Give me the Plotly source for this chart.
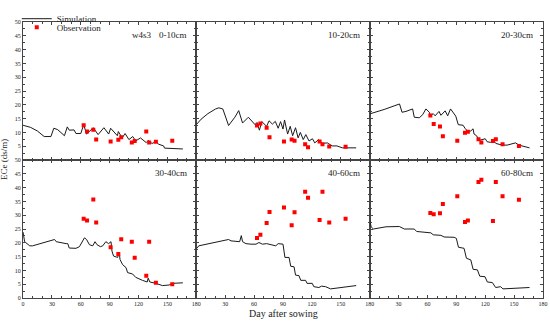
import plotly.graph_objects as go
from plotly.subplots import make_subplots

# ---------------- data ----------------
depth_labels = ["0-10cm", "10-20cm", "20-30cm", "30-40cm", "40-60cm", "60-80cm"]
treatment_label = "w4s3"

obs_days = [63, 66.5, 73, 76, 91, 99, 102, 113, 116, 128, 131, 138, 155]
obs_0_10 = [12.6, 10.3, 11.0, 7.4, 6.7, 7.3, 8.2, 6.3, 6.9, 10.3, 6.3, 6.6, 7.0]
obs_10_20 = [12.5, 13.2, 11.7, 8.2, 6.7, 7.4, 7.0, 5.7, 4.6, 6.7, 5.7, 4.9, 4.8]
obs_20_30 = [16.1, 13.0, 12.1, 8.6, 7.0, 9.9, 10.2, 7.5, 6.3, 6.9, 7.5, 5.7, 5.1]
obs_30_40 = [28.7, 28.1, 35.7, 27.4, 18.4, 15.9, 21.3, 20.4, 14.6, 8.1, 20.4, 5.5, 5.0]
obs_40_60 = [21.7, 22.9, 27.2, 31.2, 32.8, 26.4, 31.1, 38.5, 36.3, 28.3, 38.5, 27.4, 28.7]
obs_60_80 = [30.8, 30.3, 30.7, 34.1, 36.9, 27.5, 28.1, 42.0, 42.8, 27.9, 42.0, 36.9, 35.6]

sim_days_0_10 = [0, 8, 15, 22, 29, 32, 36, 43, 46, 48, 53, 55, 60, 63, 66, 73, 78, 84, 89, 91, 98, 99,
                 103, 106, 110, 114, 117, 122, 128, 130, 134, 138, 141, 146, 147, 166]
sim_0_10 = [12.6, 11.8, 10.5, 8.5, 8.5, 11.5, 11.0, 8.8, 12.0, 10.8, 10.9, 9.6, 9.6, 12.8, 9.4, 11.7, 9.2,
            11.7, 9.4, 11.5, 8.8, 10.3, 8.0, 9.6, 7.4, 8.5, 6.9, 8.0, 6.3, 7.1, 6.0, 6.6, 5.7, 5.1, 4.3, 4.0]

sim_days_10_20 = [0, 5, 12, 20, 23.4, 27.5, 33.5, 40, 44, 48, 54, 58, 61, 63, 65.5, 68, 73, 75.5, 79, 82,
                  85, 87.5, 90, 91.6, 94.8, 97.5, 100, 103, 105.7, 108, 111, 113.7, 117, 120.6, 123, 127,
                  131, 136, 141, 146, 151.7, 166]
sim_10_20 = [12.8, 14.8, 16.8, 18.5, 18.9, 18.5, 12.5, 15.5, 17.9, 13.4, 15.5, 14.0, 12.8, 13.6, 10.8,
             13.9, 12.2, 14.2, 13.0, 14.0, 11.5, 13.9, 11.2, 14.5, 9.4, 12.2, 8.8, 11.7, 8.0, 10.0, 7.4,
             9.2, 6.9, 7.7, 6.2, 7.4, 6.0, 6.2, 5.1, 5.1, 4.4, 4.4]

sim_days_20_30 = [0, 15, 31, 33.6, 37.7, 44.6, 46.3, 51.5, 55, 58.4, 62, 63, 66, 68, 72, 74, 78.4, 81, 84,
                  86.5, 89.4, 92, 97, 99, 101.5, 105, 107.4, 108.4, 111, 113.6, 117, 120, 122, 125.5, 129,
                  131, 137.7, 142.8, 151.5, 155, 166]
sim_20_30 = [16.7, 18.3, 20.3, 17.3, 17.6, 18.5, 15.5, 15.3, 16.4, 18.5, 17.3, 16.0, 16.8, 16.0, 17.6,
             16.2, 17.8, 16.0, 18.5, 17.3, 15.9, 12.8, 12.6, 11.5, 10.5, 10.5, 11.3, 9.4, 8.8, 7.1, 7.5,
             7.7, 6.6, 6.4, 6.9, 6.0, 5.4, 5.4, 6.2, 5.4, 4.4]

sim_days_30_40 = [0, 1.7, 7, 10, 32.8, 34.5, 44.8, 46.5, 48, 55, 58.6, 63.8, 66, 69, 72.4, 74.8, 76.9, 80.3,
                  82.8, 86, 88.9, 91.4, 92.4, 94, 98.3, 100, 100.7, 103.4, 107, 108.6, 113.8, 117, 124,
                  129, 130, 131.7, 138, 144.8, 151.7, 155, 166]
sim_30_40 = [23.9, 20.4, 18.9, 18.9, 21.2, 20.4, 19.7, 19.7, 18.1, 18.0, 18.6, 21.8, 21.2, 19.3, 18.9,
             20.4, 19.3, 18.6, 18.9, 20.4, 19.7, 20.4, 17.0, 15.2, 14.7, 16.6, 14.0, 12.1, 11.0, 9.2, 8.7,
             7.5, 6.4, 5.8, 7.2, 5.8, 5.3, 4.5, 4.7, 5.3, 5.5]

sim_days_40_60 = [0, 2.5, 33.5, 36, 45, 46.7, 48, 51.5, 56.7, 62, 65, 68.7, 73, 77.3, 82.5, 85, 90, 92,
                  96.3, 98, 101.5, 103, 106.6, 108.4, 113.5, 115, 120.4, 122, 127.3, 130, 134.2, 139.4, 166]
sim_40_60 = [17.8, 18.9, 21.2, 20.7, 20.4, 22.6, 20.4, 19.7, 19.5, 19.5, 20.1, 19.5, 19.7, 19.3, 18.9,
             19.7, 19.5, 14.7, 14.7, 11.5, 11.3, 8.3, 8.1, 6.4, 6.4, 5.3, 5.3, 4.1, 3.8, 4.3, 4.1, 3.3, 4.5]

sim_days_60_80 = [0, 1.5, 3.9, 8.4, 17, 30.8, 36, 46.3, 48.8, 63.6, 66, 74, 77.4, 87.7, 90, 92.2, 98,
                  100.5, 105, 107.4, 111.9, 114.3, 119.8, 122.2, 127.4, 130.8, 136, 138.4, 166]
sim_60_80 = [28.4, 25.8, 25.0, 25.3, 25.8, 25.9, 25.0, 25.0, 24.1, 23.6, 22.9, 22.7, 22.1, 22.0, 21.6,
             18.4, 18.0, 14.4, 13.8, 10.4, 10.2, 7.9, 7.7, 5.8, 5.6, 3.8, 4.1, 3.3, 3.8]

x_ticks_first = [0, 30, 60, 90, 120, 150, 180]
x_ticks_other = [30, 60, 90, 120, 150, 180]
y_ticks_top = [5, 10, 15, 20, 25, 30, 35, 40, 45, 50]
y_ticks_bottom = [0, 5, 10, 15, 20, 25, 30, 35, 40, 45, 50]

sim_days = [sim_days_0_10, sim_days_10_20, sim_days_20_30, sim_days_30_40, sim_days_40_60, sim_days_60_80]
sims = [sim_0_10, sim_10_20, sim_20_30, sim_30_40, sim_40_60, sim_60_80]
obss = [obs_0_10, obs_10_20, obs_20_30, obs_30_40, obs_40_60, obs_60_80]

# ---------------- figure ----------------
FONT = "Liberation Serif"
fig = make_subplots(rows=2, cols=3, horizontal_spacing=0, vertical_spacing=0)

for i in range(6):
    r, c = i // 3 + 1, i % 3 + 1
    fig.add_trace(go.Scatter(x=sim_days[i], y=sims[i], mode="lines", name="Simulation",
                             line=dict(color="#1a1a1a", width=1), showlegend=(i == 0),
                             legend="legend"), row=r, col=c)
    fig.add_trace(go.Scatter(x=obs_days, y=obss[i], mode="markers", name="Observation",
                             marker=dict(color="#ff0000", size=4, symbol="square"),
                             showlegend=(i == 0), legend="legend2"), row=r, col=c)
    fig.add_annotation(text=depth_labels[i], xref="x domain" if i == 0 else f"x{i+1} domain",
                       yref="y domain" if i == 0 else f"y{i+1} domain",
                       x=0.955, y=0.905, xanchor="right", yanchor="middle", showarrow=False,
                       font=dict(family=FONT, size=9, color="#222"))

fig.add_annotation(text=treatment_label, xref="x domain", yref="y domain", x=0.685, y=0.905,
                   xanchor="center", yanchor="middle", showarrow=False,
                   font=dict(family=FONT, size=9, color="#222"))

axis_common = dict(showline=True, linecolor="#444", linewidth=1, mirror="ticks", ticks="inside",
                   ticklen=3, tickcolor="#444", showgrid=False, zeroline=False, automargin=False,
                   tickfont=dict(family=FONT, size=6, color="#222"))

for i in range(6):
    r, c = i // 3 + 1, i % 3 + 1
    fig.update_xaxes(range=[0, 180], tickvals=(x_ticks_first if c == 1 else x_ticks_other),
                     showticklabels=(r == 2),
                     minor=dict(dtick=10, ticks="inside", ticklen=2, tickcolor="#444"),
                     row=r, col=c, **axis_common)
    fig.update_yaxes(range=[0, 50], tickvals=(y_ticks_top if r == 1 else y_ticks_bottom),
                     showticklabels=(c == 1),
                     minor=dict(dtick=2.5, ticks="inside", ticklen=2, tickcolor="#444"),
                     row=r, col=c, **axis_common)

fig.add_annotation(text="ECe (ds/m)", xref="paper", yref="paper", x=0, y=0.5, xanchor="right",
                   yanchor="middle", xshift=-12, textangle=-90, showarrow=False,
                   font=dict(family=FONT, size=9, color="#222"))
fig.add_annotation(text="Day after sowing", xref="paper", yref="paper", x=0.5, y=0, xanchor="center",
                   yanchor="middle", yshift=-15, showarrow=False,
                   font=dict(family=FONT, size=10, color="#222"))

legend_common = dict(xanchor="left", yanchor="middle", bgcolor="rgba(0,0,0,0)",
                     font=dict(family=FONT, size=9, color="#222"), itemwidth=30)
fig.update_layout(
    width=550, height=324,
    margin=dict(l=23, r=7, t=4, b=26),
    paper_bgcolor="white", plot_bgcolor="white",
    showlegend=True,
    legend=dict(x=-0.012, y=1.012, **legend_common),
    legend2=dict(x=-0.012, y=0.981, **legend_common),
)

fig.write_html("out.html", config={"displayModeBar": False},
               post_script="document.body.style.margin='0';")
